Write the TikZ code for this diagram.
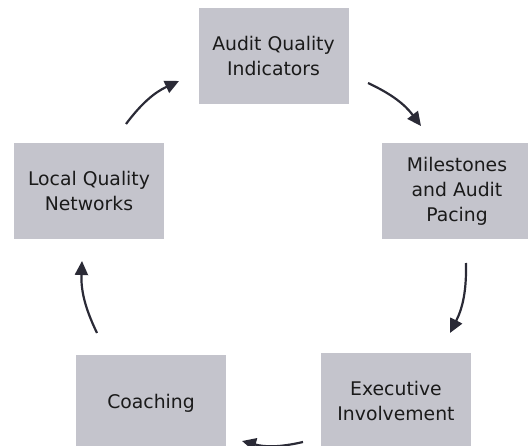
\documentclass[tikz,border=0pt]{standalone}
\usepackage{fontspec}
\setmainfont{DejaVu Sans}
\usetikzlibrary{arrows.meta}
\definecolor{boxfill}{HTML}{C4C4CC}
\definecolor{txt}{HTML}{1A1A1A}
\definecolor{arr}{HTML}{2A2A36}
\tikzset{
  cyclebox/.style={fill=boxfill, draw=none, minimum width=150pt, minimum height=96pt,
    inner sep=0pt, align=center, text=txt, font=\fontsize{18.8}{25}\selectfont},
  cyclearrow/.style={draw=arr, line width=2.2pt, -{Triangle[length=14pt,width=13pt]}, bend left=14}
}
\begin{document}
\begin{tikzpicture}[x=1pt,y=-1pt]
\useasboundingbox (0,0) rectangle (528,446);
\node[cyclebox] (aqi) at (273.5,56) {Audit Quality\\Indicators};
\node[cyclebox] (mil) at (457,191.5) {Milestones\\and Audit\\Pacing};
\node[cyclebox] (exe) at (396,401) {Executive\\Involvement};
\node[cyclebox] (coa) at (151,403) {Coaching};
\node[cyclebox] (lqn) at (89,191) {Local Quality\\Networks};

\coordinate (a1s) at (126,124); \coordinate (a1e) at (179,81);
\coordinate (a2s) at (368,83);  \coordinate (a2e) at (421,126);
\coordinate (a3s) at (466,263); \coordinate (a3e) at (450,333);
\coordinate (a4s) at (303,442); \coordinate (a4e) at (242,441);
\coordinate (a5s) at (97,333);  \coordinate (a5e) at (82,261);

\draw[cyclearrow] (a1s) to (a1e);
\draw[cyclearrow] (a2s) to (a2e);
\draw[cyclearrow] (a3s) to (a3e);
\draw[cyclearrow] (a4s) to (a4e);
\draw[cyclearrow] (a5s) to (a5e);
\end{tikzpicture}
\end{document}
